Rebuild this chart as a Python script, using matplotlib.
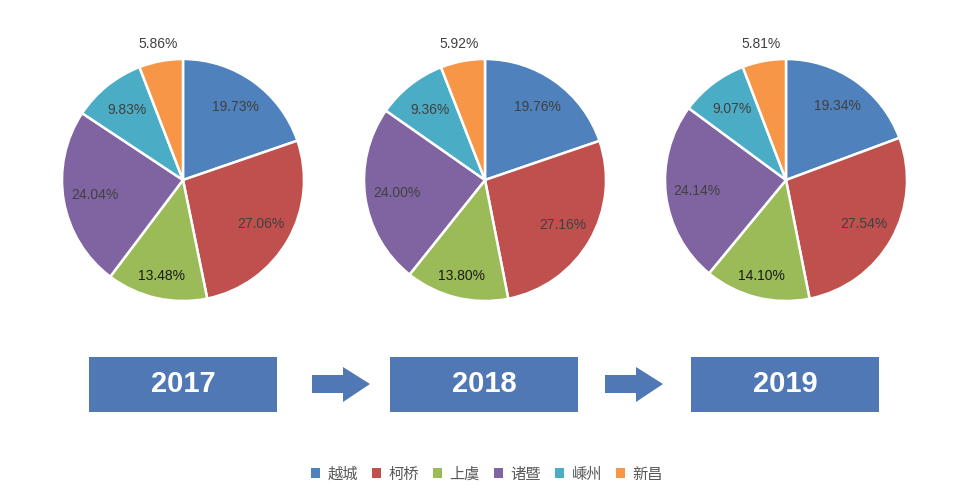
import matplotlib.pyplot as plt
from matplotlib.patches import Rectangle, Polygon, Patch

plt.rcParams['font.family'] = ['Liberation Sans', 'Noto Sans CJK SC', 'DejaVu Sans']

names = ['越城', '柯桥', '上虞', '诸暨', '嵊州', '新昌']
years = ['2017', '2018', '2019']
share_2017 = [19.73, 27.06, 13.48, 24.04, 9.83, 5.86]
share_2018 = [19.76, 27.16, 13.80, 24.00, 9.36, 5.92]
share_2019 = [19.34, 27.54, 14.10, 24.14, 9.07, 5.81]
shares = [share_2017, share_2018, share_2019]

colors = ['#4F81BD', '#C0504D', '#9BBB59', '#8064A2', '#4BACC6', '#F79646']
box_color = '#4F78B5'

W, H = 964, 500
fig = plt.figure(figsize=(9.64, 5.0), dpi=100)
ax = fig.add_axes([0, 0, 1, 1])

# pixel positions (from top-left) of pies and year boxes
centers = [(183, 180), (485, 180), (786, 180)]
radius = 121
box_left = [89, 390, 691]

for i, vals in enumerate(shares):
    cx, cy = centers[i]
    wedges, texts, pcts = ax.pie(vals, colors=colors, startangle=90, counterclock=False,
                                 center=(cx, H - cy), radius=radius,
                                 autopct='%.2f%%', pctdistance=0.74,
                                 wedgeprops=dict(edgecolor='white', linewidth=1.8),
                                 textprops=dict(fontsize=10, color='#404040'))
    # green slice label a bit further out and darker
    x, y = pcts[2].get_position()
    pcts[2].set_position((cx + (x - cx) * 1.1, (H - cy) + (y - (H - cy)) * 1.1))
    pcts[2].set_color('#1a1a1a')
    # smallest slice label sits outside the pie
    x, y = pcts[5].get_position()
    k = 1.14 / 0.74
    pcts[5].set_position((cx + (x - cx) * k, (H - cy) + (y - (H - cy)) * k))

    # year box
    bx = box_left[i]
    ax.add_patch(Rectangle((bx, H - 412), 188, 55, facecolor=box_color, edgecolor='none'))
    ax.text(bx + 94, H - 384, years[i], color='white', fontsize=21, fontweight='bold',
            ha='center', va='center')

# arrows between boxes
for ax0 in [312, 605]:
    pts = [(ax0, H - 375), (ax0 + 31, H - 375), (ax0 + 31, H - 367), (ax0 + 58, H - 384),
           (ax0 + 31, H - 402), (ax0 + 31, H - 393), (ax0, H - 393)]
    ax.add_patch(Polygon(pts, closed=True, facecolor=box_color, edgecolor='none'))

ax.set_xlim(0, W)
ax.set_ylim(0, H)
ax.set_aspect('equal')
ax.axis('off')

handles = [Patch(facecolor=c, edgecolor='none') for c in colors]
fig.legend(handles, names, loc='center', bbox_to_anchor=(487 / W, 1 - 474 / H), ncol=6,
           frameon=False, handlelength=0.6, handleheight=0.6, handletextpad=0.5,
           columnspacing=0.9, prop={'family': ['Noto Sans CJK SC'], 'size': 11},
           labelcolor='#595959')

fig.savefig('out.png', dpi=100)
